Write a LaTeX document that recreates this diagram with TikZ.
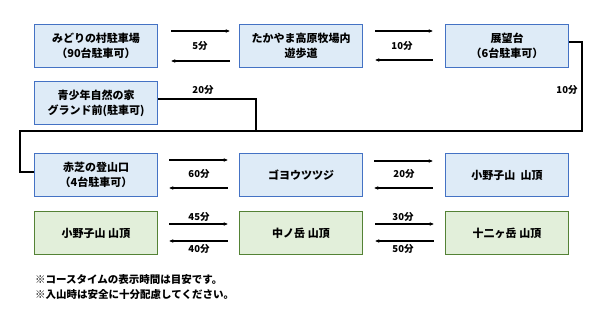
\documentclass[tikz,border=0pt]{standalone}
\usepackage{fontspec}
\setmainfont{Noto Sans CJK JP}
\usetikzlibrary{arrows.meta}
\definecolor{bbord}{HTML}{4472C4}
\definecolor{bfill}{HTML}{DEEBF7}
\definecolor{gbord}{HTML}{548235}
\definecolor{gfill}{HTML}{E2EFDA}
\tikzset{
  bbox/.style={draw=bbord,fill=bfill,line width=1.5pt,minimum width=123pt,minimum height=43pt,inner sep=0pt,align=center,font=\fontsize{11}{15}\selectfont\bfseries},
  gbox/.style={bbox,draw=gbord,fill=gfill},
  arr/.style={-{Stealth[length=4pt,width=3.5pt]},line width=1.1pt},
  conn/.style={line width=1.5pt},
  lbl/.style={font=\fontsize{9.5}{10}\selectfont\bfseries,inner sep=0pt},
  note/.style={font=\fontsize{10.5}{12}\selectfont\bfseries,inner sep=0pt,anchor=west}
}
\begin{document}
\begin{tikzpicture}[x=1pt,y=-1pt]
\useasboundingbox (0,0) rectangle (600,315);
\node[bbox] (midori) at (96,46) {みどりの村駐車場\\（90台駐車可）};
\node[bbox] (takayama) at (301,46) {たかやま高原牧場内\\遊歩道};
\node[bbox] (tenbo) at (507,46) {展望台\\（6台駐車可）};
\node[bbox] (seinen) at (96,103) {青少年自然の家\\グランド前(駐車可)};
\node[bbox] (akashiba) at (96,175) {赤芝の登山口\\（4台駐車可）};
\node[bbox] (goyo) at (301,175) {ゴヨウツツジ};
\node[bbox] (onokoB) at (507,175) {小野子山\ \ 山頂};
\node[gbox] (onokoG) at (96,233) {小野子山 山頂};
\node[gbox] (nakano) at (301,233) {中ノ岳 山頂};
\node[gbox] (juni) at (507,233) {十二ヶ岳 山頂};
% row 1 arrows
\draw[arr] ([xshift=13pt,yshift=15pt]midori.east) -- ([xshift=-9pt,yshift=15pt]takayama.west);
\draw[arr] ([xshift=-9pt,yshift=-15pt]takayama.west) -- ([xshift=13pt,yshift=-15pt]midori.east);
\draw[arr] ([xshift=12pt,yshift=15pt]takayama.east) -- ([xshift=-12pt,yshift=15pt]tenbo.west);
\draw[arr] ([xshift=-12pt,yshift=-14pt]tenbo.west) -- ([xshift=12pt,yshift=-14pt]takayama.east);
\node[lbl] (l1) at (200,46) {5分};
\node[lbl] (l2) at (402,46) {10分};
% connectors
\coordinate (j1) at (256,131);
\coordinate (j2) at (582,131);
\coordinate (j3) at (20,131);
\draw[conn] ([yshift=4pt]seinen.east) -| (j1);
\draw[conn] ([yshift=4pt]tenbo.east) -| (j2) -- (j3) |- ([yshift=3pt]akashiba.west);
\node[lbl] (l3) at (203,90) {20分};
\node[lbl] (l4) at (567,90) {10分};
% row 3 arrows
\draw[arr] ([xshift=11pt,yshift=15pt]akashiba.east) -- ([xshift=-11pt,yshift=15pt]goyo.west);
\draw[arr] ([xshift=-11pt,yshift=-13pt]goyo.west) -- ([xshift=11pt,yshift=-13pt]akashiba.east);
\draw[arr] ([xshift=11pt,yshift=14pt]goyo.east) -- ([xshift=-12pt,yshift=14pt]onokoB.west);
\draw[arr] ([xshift=-12pt,yshift=-13pt]onokoB.west) -- ([xshift=11pt,yshift=-13pt]goyo.east);
\node[lbl] (l5) at (199,174) {60分};
\node[lbl] (l6) at (404,174) {20分};
% row 4 arrows
\draw[arr] ([xshift=11pt,yshift=9pt]onokoG.east) -- ([xshift=-11pt,yshift=9pt]nakano.west);
\draw[arr] ([xshift=-11pt,yshift=-8pt]nakano.west) -- ([xshift=11pt,yshift=-8pt]onokoG.east);
\draw[arr] ([xshift=12pt,yshift=9pt]nakano.east) -- ([xshift=-11pt,yshift=9pt]juni.west);
\draw[arr] ([xshift=-11pt,yshift=-8pt]juni.west) -- ([xshift=12pt,yshift=-8pt]nakano.east);
\node[lbl] (l7) at (199,217) {45分};
\node[lbl] (l8) at (199,249) {40分};
\node[lbl] (l9) at (403,217) {30分};
\node[lbl] (l10) at (403,249) {50分};
% notes
\node[note] (n1) at (35,280) {※コースタイムの表示時間は目安です。};
\node[note] (n2) at (35,295) {※入山時は安全に十分配慮してください。};
\end{tikzpicture}
\end{document}
